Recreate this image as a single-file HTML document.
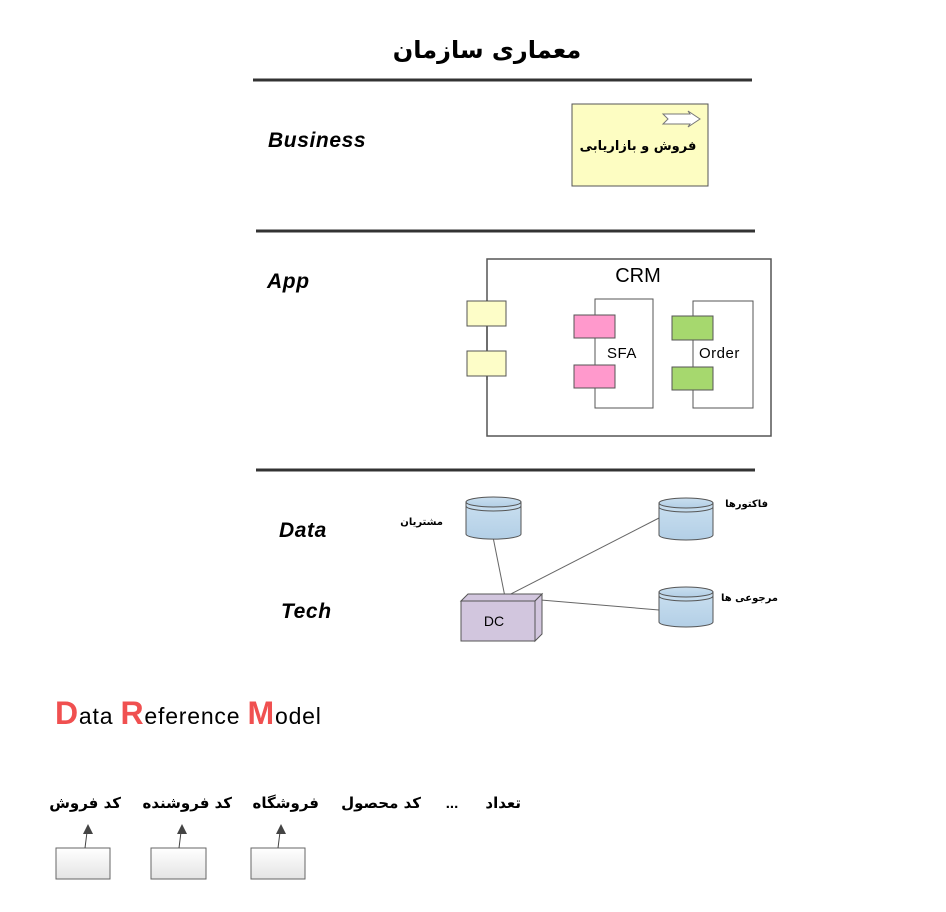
<!DOCTYPE html>
<html><head><meta charset="utf-8"><style>body{margin:0;background:#fff}svg{display:block}</style></head><body>
<svg width="946" height="912" viewBox="0 0 946 912" xmlns="http://www.w3.org/2000/svg" font-family="'Liberation Sans','DejaVu Sans',sans-serif">
<defs>
<linearGradient id="cyl" x1="0" x2="0" y1="0" y2="1"><stop offset="0" stop-color="#c9dff0"/><stop offset="1" stop-color="#b3cfe6"/></linearGradient>
<linearGradient id="gb" x1="0" x2="0" y1="0" y2="1"><stop offset="0" stop-color="#fff"/><stop offset="1" stop-color="#e4e4e4"/></linearGradient>
</defs>
<text x="487" y="58" text-anchor="middle" font-family="'DejaVu Sans',sans-serif" font-weight="bold" font-size="24" direction="rtl">معماری سازمان</text>
<g stroke="#333" stroke-width="3"><line x1="253" y1="80" x2="752" y2="80"/><line x1="256" y1="231" x2="755" y2="231"/><line x1="256" y1="470" x2="755" y2="470"/></g>
<g font-weight="bold" font-style="italic" font-size="21" letter-spacing="0.6">
<text x="268" y="147">Business</text><text x="267" y="288">App</text><text x="279" y="537">Data</text><text x="281" y="618">Tech</text></g>
<rect x="572" y="104" width="136" height="82" fill="#fdfdc2" stroke="#555"/>
<path d="M663 114 L690 114 L688 111 L700 119 L688 127 L690 124 L663 124 L668 119 Z" fill="#fff" stroke="#777"/>
<text x="638" y="150" text-anchor="middle" font-family="'DejaVu Sans',sans-serif" font-weight="bold" font-size="13" direction="rtl">فروش و بازاریابی</text>
<rect x="487" y="259" width="284" height="177" fill="#fff" stroke="#555" stroke-width="1.5"/>
<text x="638" y="282" text-anchor="middle" font-size="20">CRM</text>
<line x1="487" y1="300" x2="487" y2="380" stroke="#333"/>
<rect x="467" y="301" width="39" height="25" fill="#fdfdc8" stroke="#555"/>
<rect x="467" y="351" width="39" height="25" fill="#fdfdc8" stroke="#555"/>
<rect x="595" y="299" width="58" height="109" fill="#fff" stroke="#555"/>
<rect x="574" y="315" width="41" height="23" fill="#ff99cc" stroke="#555"/>
<rect x="574" y="365" width="41" height="23" fill="#ff99cc" stroke="#555"/>
<text x="607" y="358" font-size="15" letter-spacing="0.5">SFA</text>
<rect x="693" y="301" width="60" height="107" fill="#fff" stroke="#555"/>
<rect x="672" y="316" width="41" height="24" fill="#a6d86e" stroke="#555"/>
<rect x="672" y="367" width="41" height="23" fill="#a6d86e" stroke="#555"/>
<text x="699" y="358" font-size="15" letter-spacing="0.5">Order</text>
<g stroke="#666"><line x1="505" y1="597" x2="493" y2="537"/><line x1="505" y1="597" x2="659" y2="518"/><line x1="505" y1="597" x2="659" y2="610"/></g>
<g fill="url(#cyl)" stroke="#555">
<path d="M466 502 v32 a27 5 0 0 0 55 0 v-32 Z"/><ellipse cx="493.5" cy="502" rx="27.5" ry="5"/><path d="M466 506 a27.5 5 0 0 0 55 0" fill="none"/>
<path d="M659 503 v32 a27 5 0 0 0 54 0 v-32 Z"/><ellipse cx="686" cy="503" rx="27" ry="5"/><path d="M659 507 a27 5 0 0 0 54 0" fill="none"/>
<path d="M659 592 v30 a27 5 0 0 0 54 0 v-30 Z"/><ellipse cx="686" cy="592" rx="27" ry="5"/><path d="M659 596 a27 5 0 0 0 54 0" fill="none"/>
</g>
<g font-family="'DejaVu Sans',sans-serif" font-weight="bold" font-size="10" direction="rtl">
<text x="443" y="525" text-anchor="start">مشتریان</text>
<text x="768" y="507" text-anchor="start">فاکتورها</text>
<text x="778" y="601" text-anchor="start">مرجوعی ها</text></g>
<g stroke="#555" fill="#d2c6de"><rect x="461" y="601" width="74" height="40"/><path d="M461 601 l7 -7 h74 l-7 7 Z"/><path d="M535 601 l7 -7 v40 l-7 7 Z"/></g>
<text x="494" y="626" text-anchor="middle" font-size="14">DC</text>
<text x="55" y="724" font-size="23" letter-spacing="0.8"><tspan fill="#f05050" font-size="32" font-weight="bold">D</tspan>ata <tspan fill="#f05050" font-size="32" font-weight="bold">R</tspan>eference <tspan fill="#f05050" font-size="32" font-weight="bold">M</tspan>odel</text>
<g font-family="'DejaVu Sans',sans-serif" font-weight="bold" font-size="15" direction="rtl" text-anchor="start">
<text x="121" y="808">کد فروش</text>
<text x="232" y="808">کد فروشنده</text>
<text x="319" y="808">فروشگاه</text>
<text x="421" y="808">کد محصول</text>
<text x="521" y="808">تعداد</text></g>
<text x="452" y="808" text-anchor="middle" font-weight="bold" font-size="15">...</text>
<g stroke="#666" fill="url(#gb)"><rect x="56" y="848" width="54" height="31"/><rect x="151" y="848" width="55" height="31"/><rect x="251" y="848" width="54" height="31"/></g>
<g stroke="#444"><line x1="85" y1="848" x2="87" y2="832"/><line x1="179" y1="848" x2="181" y2="832"/><line x1="278" y1="848" x2="280" y2="832"/></g>
<g fill="#444"><path d="M88 824 l-5 10 h10 Z"/><path d="M182 824 l-5 10 h10 Z"/><path d="M281 824 l-5 10 h10 Z"/></g>
</svg>
</body></html>
